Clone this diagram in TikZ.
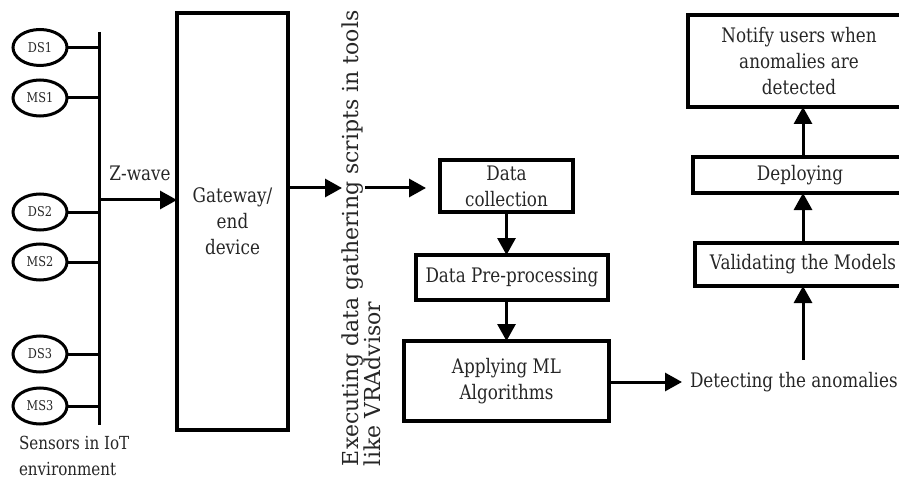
\documentclass[tikz,border=0pt]{standalone}
\usepackage{fontspec}
\setmainfont{DejaVu Serif}[FakeStretch=0.84]
\newfontfamily\widefont{DejaVu Serif}
\usetikzlibrary{arrows.meta,shapes.geometric}

\begin{document}
\begin{tikzpicture}[x=1pt,y=-1pt,
  every node/.style={inner sep=0pt,outer sep=0pt},
  box/.style={draw,line width=3.2pt,align=center,text=black!85,
    font=\fontsize{20}{26}\selectfont},
  sensor/.style={draw,ellipse,line width=3pt,minimum width=54pt,
    minimum height=36pt,text=black!85,font=\fontsize{13.5}{14}\selectfont},
  wire/.style={line width=3pt},
  arr/.style={line width=3pt,-{Triangle[length=17pt,width=18pt]}},
  lbl/.style={text=black!85,font=\fontsize{20}{26}\selectfont}]

\useasboundingbox (0,0) rectangle (899,481);
\clip (0,0) rectangle (899,481);

% sensors on the bus
\coordinate (bt) at (99,32);
\coordinate (bb) at (99,425);
\draw[wire] (bt) -- (bb);
\foreach \n/\y in {DS1/47.5,MS1/98,DS2/212,MS2/262,DS3/354,MS3/406}{
  \node[sensor] (\n) at (40,\y) {\n};
  \draw[wire] (\n.east) -- (\n.east -| bt);
}
\node[anchor=west,align=left,text=black!85,font=\fontsize{18}{26}\selectfont]
  (sens) at (19,456) {Sensors in IoT\\environment};

% gateway
\node[box,minimum width=111pt,minimum height=417pt] (gw) at (232.5,221.5)
  {Gateway/\\end\\device};
\coordinate (zw) at (99,200);
\draw[arr] (zw) -- (zw -| gw.west);
\node[lbl] (zwl) at (140,173) {Z-wave};

% data gathering scripts, read bottom to top
\node[rotate=90,anchor=west,align=left,text=black!85,
  font=\widefont\fontsize{22}{22}\selectfont]
  (rot) at (361,466) {Executing data gathering scripts in tools\\like VRAdvisor};

% processing chain
\node[box,minimum width=133pt,minimum height=52pt] (dc) at (506.5,186)
  {Data\\collection};
\node[box,minimum width=192pt,minimum height=45pt] (pp) at (512,277.5)
  {Data Pre-processing};
\node[box,minimum width=205pt,minimum height=80pt] (ml) at (506.5,381)
  {Applying ML\\Algorithms};

\coordinate (g1) at (342,188);
\coordinate (g2) at (365,188);
\draw[arr] (g1 -| gw.east) -- (g1);
\draw[arr,shorten >=14pt] (g2) -- (g2 -| dc.west);
\draw[arr] (dc.south) -- (dc.south |- pp.north);
\draw[arr] (dc.south |- pp.south) -- (dc.south |- ml.north);

% anomaly handling
\node[lbl,anchor=west] (det) at (690,382) {Detecting the anomalies};
\draw[arr,shorten >=8pt] (ml.east |- det.west) -- (det.west);

\node[box,minimum width=216pt,minimum height=43pt] (val) at (803,264.5)
  {Validating the Models};
\node[box,minimum width=214pt,minimum height=36pt] (dep) at (800,175)
  {Deploying};
\node[box,minimum width=222pt,minimum height=92pt] (nt) at (799,61)
  {Notify users when\\anomalies are\\detected};

\coordinate (up0) at (803,360);
\draw[arr] (up0) -- (up0 |- val.south);
\draw[arr] (up0 |- val.north) -- (up0 |- dep.south);
\draw[arr] (up0 |- dep.north) -- (up0 |- nt.south);
\end{tikzpicture}
\end{document}
